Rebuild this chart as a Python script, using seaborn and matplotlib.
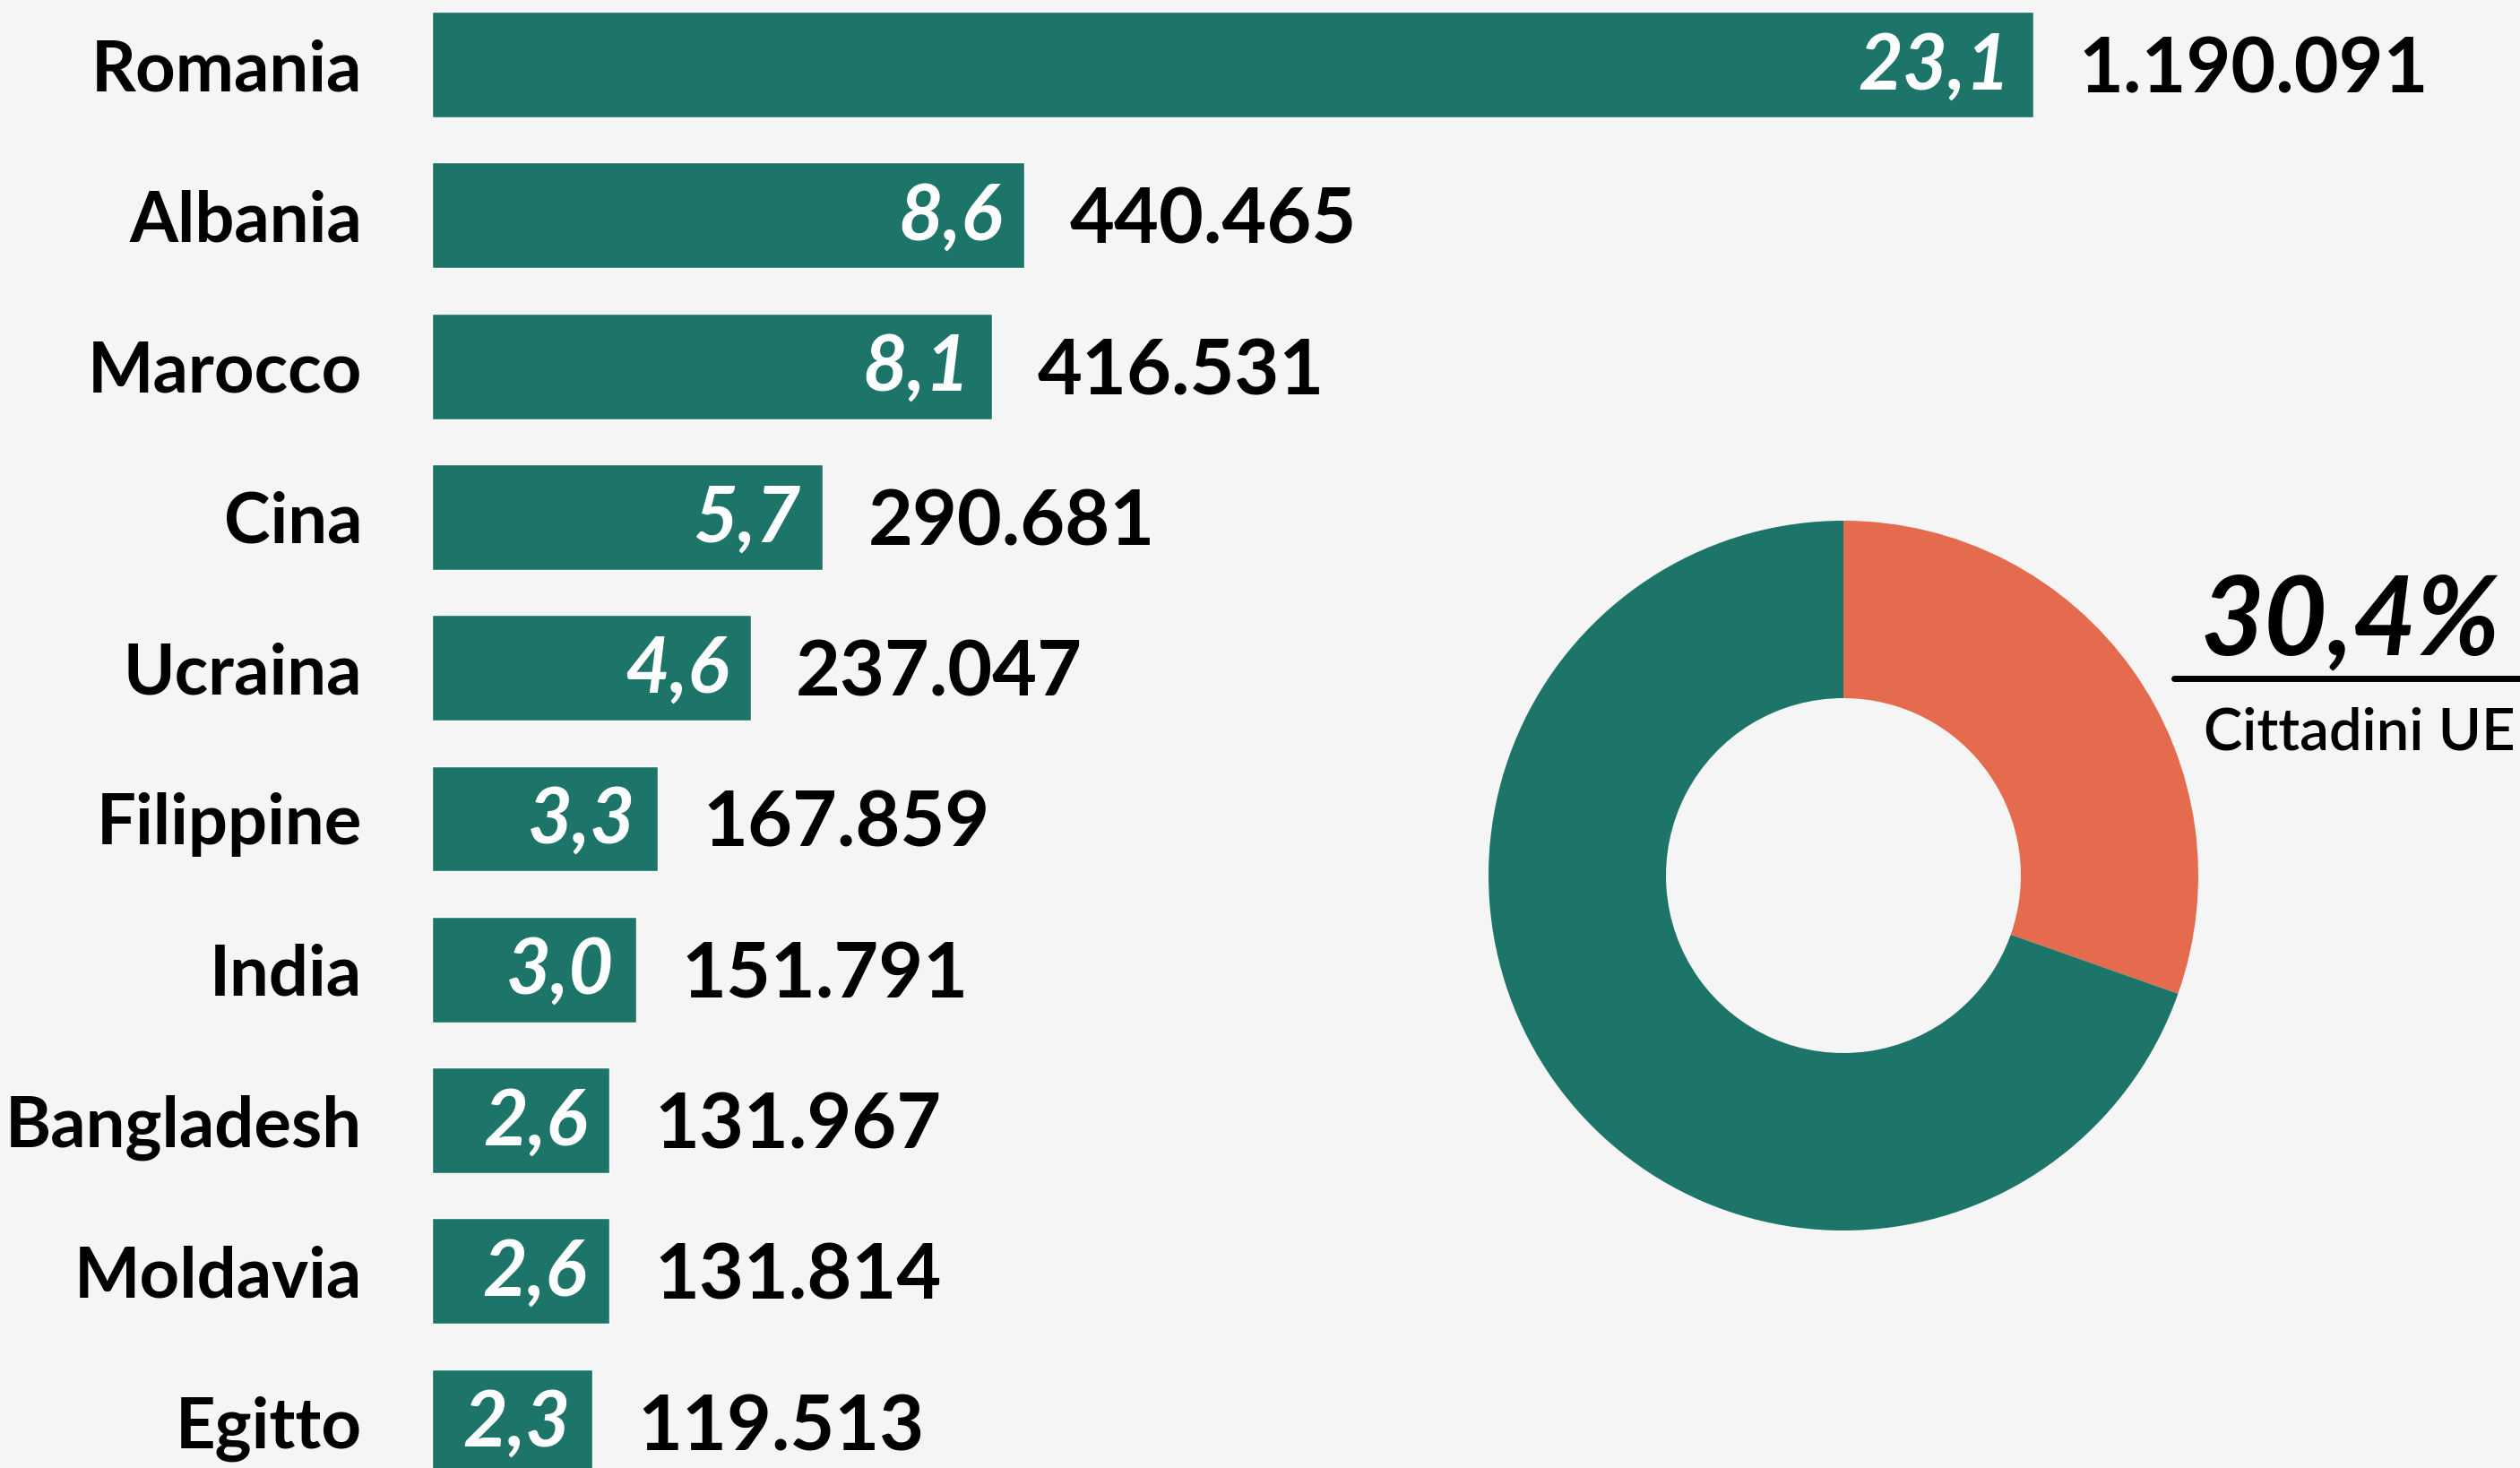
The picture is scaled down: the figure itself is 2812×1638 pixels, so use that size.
import pandas as pd
import matplotlib.pyplot as plt
import seaborn as sns

# Dati: principali cittadinanze straniere
paesi = ['Romania', 'Albania', 'Marocco', 'Cina', 'Ucraina', 'Filippine',
         'India', 'Bangladesh', 'Moldavia', 'Egitto']
residenti = [1190091, 440465, 416531, 290681, 237047, 167859,
             151791, 131967, 131814, 119513]
percentuali = [23.1, 8.6, 8.1, 5.7, 4.6, 3.3, 3.0, 2.6, 2.6, 2.3]

# Ciambella: cittadini UE vs resto
quota_ue = [30.4, 69.6]

TEAL = '#1d7569'
ORANGE = '#e56b4e'
BG = '#f5f5f5'

df = pd.DataFrame({'paese': paesi, 'residenti': residenti, 'perc': percentuali})

sns.set_theme(style='white')
plt.rcParams['font.family'] = ['Lato', 'DejaVu Sans']

W, H = 2812, 1638
fig = plt.figure(figsize=(W / 100, H / 100), dpi=100, facecolor=BG)

# --- barre orizzontali ---
ax = fig.add_axes([482 / W, 0, (2269 - 482) / W, 1])
ax.set_facecolor(BG)
sns.barplot(data=df, x='residenti', y='paese', orient='h', color=TEAL,
            saturation=1, width=0.70, ax=ax)
ax.set_xlim(0, max(residenti))
ax.set_ylim(9.305, -0.428)
sns.despine(ax=ax, left=True, bottom=True)
ax.set_xticks([])
ax.set_xlabel('')
ax.set_ylabel('')
ax.tick_params(axis='y', length=0, pad=56)
for lab in ax.get_yticklabels():
    lab.set_fontsize(56)
    lab.set_fontweight('bold')
    lab.set_color('black')


def fmt_int(n):
    return f'{n:,}'.replace(',', '.')


for i, (n, p) in enumerate(zip(residenti, percentuali)):
    ax.annotate(f'{p:.1f}'.replace('.', ','), (n, i), xytext=(-18, -2),
                textcoords='offset points', ha='right', va='center',
                color='white', fontsize=62, fontstyle='italic',
                fontweight='bold')
    ax.annotate(fmt_int(n), (n, i), xytext=(36, -5),
                textcoords='offset points', ha='left', va='center',
                color='black', fontsize=62, fontweight='bold')

# --- ciambella ---
cx, cy, r = 2057, 977, 396
ax2 = fig.add_axes([(cx - r) / W, (H - cy - r) / H, 2 * r / W, 2 * r / H])
ax2.pie(quota_ue, colors=[ORANGE, TEAL], startangle=90, counterclock=False,
        radius=1, wedgeprops=dict(width=0.5, edgecolor='none'))
ax2.set_aspect('equal')
ax2.set_xlim(-1, 1)
ax2.set_ylim(-1, 1)

fig.text(2790 / W, 1 - 730 / H, '30,4%', ha='right', va='baseline',
         fontsize=88, fontstyle='italic', fontweight='bold', color='black')
fig.add_artist(plt.Line2D([2426 / W, 1.0], [1 - 757 / H, 1 - 757 / H],
                          color='black', linewidth=5))
fig.text(2633 / W, 1 - 837 / H, 'Cittadini UE', ha='center', va='baseline',
         fontsize=47, fontweight='semibold', color='black')

fig.savefig('out.png', dpi=100, facecolor=BG)
